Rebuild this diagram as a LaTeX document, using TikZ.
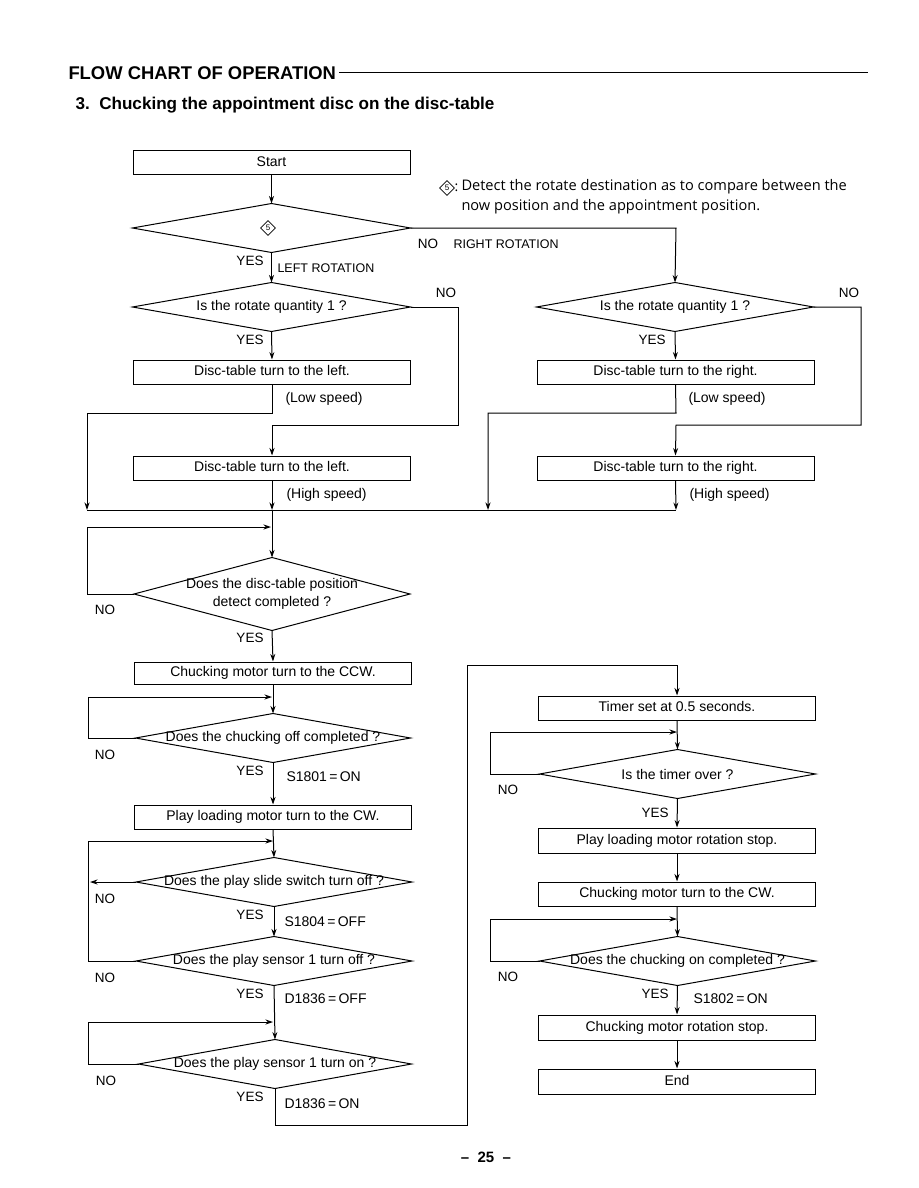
\documentclass[tikz,border=0pt]{standalone}
\usepackage{fontspec}
\setmainfont{Liberation Sans}
\newfontfamily\notefont{Open Sans}
\usetikzlibrary{arrows.meta,shapes.geometric}
\newcommand\flab{\fontsize{14}{17}\selectfont}
\newcommand\fyn{\fontsize{13.5}{16}\selectfont}
\newcommand\frot{\fontsize{12.5}{15}\selectfont}
\tikzset{
  every node/.style={font=\flab},
  box/.style={draw, rectangle, minimum width=277pt, minimum height=24pt, inner sep=0pt, text height=10pt, text depth=3pt},
  dbox/.style={rectangle, minimum width=277pt, minimum height=48pt, inner sep=0pt},
  arr/.style={-{Stealth[length=7.5pt,width=5pt]}},
  ln/.style={line width=1pt},
  lbl/.style={inner sep=0pt},
  yn/.style={inner sep=0pt, font=\fyn},
  sym/.style={draw, diamond, inner sep=1.2pt, line width=0.7pt, font=\fontsize{8}{8}\selectfont},
}
\newcommand\dia[1]{\draw[ln] (#1.north)--(#1.east)--(#1.south)--(#1.west)--cycle;}
\begin{document}
\begin{tikzpicture}[x=1pt,y=-1pt,line width=1pt]
\useasboundingbox (0,0) rectangle (918,1188);
% header
\node[lbl, anchor=base west, font=\fontsize{18.4}{22}\selectfont\bfseries] (title) at (68,80) {FLOW CHART OF OPERATION};
\coordinate (tend) at (868,73);
\draw[line width=1pt] (title.east |- tend) ++(3,0) -- (tend);
\node[lbl, anchor=base west, font=\fontsize{17.1}{20}\selectfont\bfseries] (sub) at (75,110) {3.\ \ Chucking the appointment disc on the disc-table};
% note
\node[sym] (sym2) at (447,188) {5};
\node[lbl, anchor=west, font=\notefont\fontsize{14}{19}\selectfont] (colon) at (454,188) {:};
\node[lbl, anchor=north west, align=left, font=\notefont\fontsize{14.6}{19.5}\selectfont] (note) at (461,179) {Detect the rotate destination as to compare between the\\now position and the appointment position.};
% left upper column
\node[box] (start) at (271.5,162.5) {Start};
\node[dbox] (d1) at (271.5,228) {};
\node[sym] (sym1) at (268,228) {5};
\node[dbox] (dL1) at (271.5,307) {Is the rotate quantity 1 ?};
\node[box] (bL1) at (272,372) {Disc-table turn to the left.};
\node[box] (bL2) at (272,468) {Disc-table turn to the left.};
% right upper column
\node[dbox, minimum width=276pt] (dR1) at (675,307) {Is the rotate quantity 1 ?};
\node[box] (bR1) at (675.5,372) {Disc-table turn to the right.};
\node[box] (bR2) at (675.5,468) {Disc-table turn to the right.};
\dia{d1}\dia{dL1}\dia{dR1}
\coordinate (cR) at (676,228);
\coordinate (jL) at (87,510);
\coordinate (jM) at (272,510);
\coordinate (jR) at (488,510);
\coordinate (jRR) at (676,510);
\draw[arr] (start) -- (d1.north);
\draw[arr] (d1.south) -- (dL1.north);
\draw[arr] (d1.east) -- (cR) -- (dR1.north);
\draw[arr] (dL1.south) -- (bL1.north);
\draw[arr] (dL1.east) -- (458,307) -- (458,425) -- (272,425) -- (bL2.north);
\draw[arr] (bL1.south) -- (272,413) -- (87,413) -- (jL);
\draw[arr] (bL2.south) -- (jM);
\draw[arr] (dR1.south) -- (bR1.north);
\draw[arr] (dR1.east) -- (861,307) -- (861,425) -- (676,425) -- (bR2.north);
\draw[arr] (bR1.south) -- (676,413) -- (488,413) -- (jR);
\draw[arr] (bR2.south) -- (jRR);
\draw (jL) -- (jRR);
\node[yn] (no1) at (428,244) {NO};
\node[lbl, anchor=west, font=\frot] (rr) at (453,244) {RIGHT ROTATION};
\node[yn] (yes1) at (250,261) {YES};
\node[lbl, anchor=west, font=\frot] (lr) at (277,268) {LEFT ROTATION};
\node[yn] (no2) at (446,293) {NO};
\node[yn] (yes2) at (250,340) {YES};
\node[lbl, anchor=west] (ls1) at (285,399) {(Low speed)};
\node[lbl, anchor=west] (hs1) at (286,495) {(High speed)};
\node[yn] (no3) at (849,293) {NO};
\node[yn] (yes3) at (652,340) {YES};
\node[lbl, anchor=west] (ls2) at (688,399) {(Low speed)};
\node[lbl, anchor=west] (hs2) at (689,495) {(High speed)};
% left lower column
\node[dbox, minimum width=275pt, minimum height=72pt, align=center] (d3) at (272,594) {Does the disc-table position\\[1pt]detect completed ?};
\node[box, minimum height=22pt] (b3) at (273,673) {Chucking motor turn to the CCW.};
\node[dbox, minimum width=274pt] (d4) at (273,738) {Does the chucking off completed ?};
\node[box] (b4) at (273,817) {Play loading motor turn to the CW.};
\node[dbox, minimum width=275pt] (d5) at (274,882) {Does the play slide switch turn off ?};
\node[dbox, minimum width=275pt] (d6) at (274,961) {Does the play sensor 1 turn off ?};
\node[dbox, minimum width=272pt] (d7) at (275,1064) {Does the play sensor 1 turn on ?};
\dia{d3}\dia{d4}\dia{d5}\dia{d6}\dia{d7}
\draw[arr] (jM) -- (d3.north);
\draw[arr] (d3.west) -- (87,594) -- (87,527) -- (271,527);
\draw[arr] (d3.south) -- (b3.north);
\draw[arr] (b3.south) -- (d4.north);
\draw[arr] (d4.west) -- (88,738) -- (88,697) -- (272,697);
\draw[arr] (d4.south) -- (b4.north);
\draw[arr] (b4.south) -- (d5.north);
\draw[arr] (d5.west) -- (90,882);
\draw[arr] (d5.south) -- (d6.north);
\draw[arr] (d6.west) -- (88,961) -- (88,841) -- (273,841);
\draw[arr] (d6.south) -- (d7.north);
\draw[arr] (d7.west) -- (88,1064) -- (88,1022) -- (273,1022);
\node[yn] (no4) at (105,610) {NO};
\node[yn] (yes4) at (250,638) {YES};
\node[yn] (no5) at (105,755) {NO};
\node[yn] (yes5) at (250,771) {YES};
\node[lbl, anchor=west] (s1801) at (286,777) {S1801\,=\,ON};
\node[yn] (no6) at (105,899) {NO};
\node[yn] (yes6) at (250,915) {YES};
\node[lbl, anchor=west] (s1804) at (284,922) {S1804\,=\,OFF};
\node[yn] (no7) at (105,978) {NO};
\node[yn] (yes7) at (250,994) {YES};
\node[lbl, anchor=west] (d1836a) at (284,999) {D1836\,=\,OFF};
\node[yn] (no8) at (106,1081) {NO};
\node[yn] (yes8) at (250,1097) {YES};
\node[lbl, anchor=west] (d1836b) at (284,1104) {D1836\,=\,ON};
% right lower column
\node[box] (t1) at (677,708) {Timer set at 0.5 seconds.};
\node[dbox, minimum width=275pt] (d8) at (677.5,774) {Is the timer over ?};
\node[box, minimum height=25pt] (b8) at (677,840.5) {Play loading motor rotation stop.};
\node[box] (b9) at (677,894) {Chucking motor turn to the CW.};
\node[dbox, minimum width=275pt] (d9) at (677.5,961) {Does the chucking on completed ?};
\node[box, minimum height=25pt] (b10) at (677,1027.5) {Chucking motor rotation stop.};
\node[box, minimum height=25pt] (endn) at (677,1081.5) {End};
\dia{d8}\dia{d9}
\draw[arr] (d7.south) -- (275,1125) -- (467,1125) -- (467,665) -- (677,665) -- (t1.north);
\draw[arr] (t1.south) -- (d8.north);
\draw[arr] (d8.west) -- (490,774) -- (490,732) -- (677,732);
\draw[arr] (d8.south) -- (b8.north);
\draw[arr] (b8.south) -- (b9.north);
\draw[arr] (b9.south) -- (d9.north);
\draw[arr] (d9.west) -- (490,961) -- (490,919) -- (677,919);
\draw[arr] (d9.south) -- (b10.north);
\draw[arr] (b10.south) -- (endn.north);
\node[yn] (no9) at (508,790) {NO};
\node[yn] (yes9) at (655,813) {YES};
\node[yn] (no10) at (508,977) {NO};
\node[yn] (yes10) at (655,994) {YES};
\node[lbl, anchor=west] (s1802) at (693,999) {S1802\,=\,ON};
% page number
\node[lbl, font=\fontsize{15}{18}\selectfont\bfseries] (page) at (486,1157) {--\ \ 25\ \ --};
\end{tikzpicture}
\end{document}
